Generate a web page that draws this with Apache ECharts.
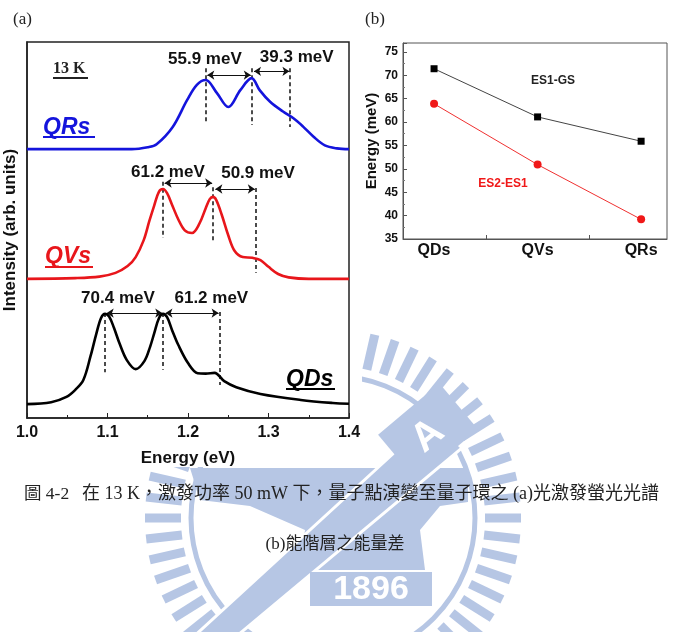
<!DOCTYPE html>
<html>
<head>
<meta charset="utf-8">
<script src="https://cdn.jsdelivr.net/npm/echarts@6/dist/echarts.min.js"></script>
<style>
html, body { margin: 0; padding: 0; background: #fff; }
#chart { width: 675px; height: 632px; }
</style>
</head>
<body>
<div id="chart"></div>
<script>
// (a) PL spectra, stacked, [energy eV, intensity arb.]
const qdsCurve = [[1.00,3.7],[1.03,4.2],[1.049,5.6],[1.06,7.5],[1.07,10.1],[1.079,16.5],[1.086,22.3],[1.092,26.6],[1.097,27.7],[1.102,27.0],[1.108,24.0],[1.115,19.8],[1.124,15.4],[1.135,13.0],[1.146,15.2],[1.153,19.0],[1.158,22.5],[1.164,26.6],[1.169,27.7],[1.174,26.8],[1.18,23.5],[1.188,19.4],[1.20,14.6],[1.212,11.9],[1.222,11.8],[1.233,12.0],[1.245,9.8],[1.26,8.2],[1.29,6.4],[1.34,4.8],[1.38,4.0],[1.40,3.8]];
const qvsCurve = [[1.00,37.0],[1.06,37.2],[1.09,37.6],[1.11,38.6],[1.125,40.4],[1.135,42.8],[1.145,47.3],[1.152,52.4],[1.158,56.5],[1.164,60.2],[1.169,60.9],[1.174,59.8],[1.18,56.8],[1.188,52.8],[1.196,49.9],[1.205,49.2],[1.214,51.6],[1.222,55.8],[1.227,58.2],[1.231,58.8],[1.235,58.0],[1.242,54.0],[1.25,48.6],[1.258,44.4],[1.268,42.8],[1.28,42.6],[1.29,42.0],[1.30,40.2],[1.312,38.3],[1.325,37.4],[1.35,37.0],[1.40,37.0]];
const qrsCurve = [[1.00,71.5],[1.13,71.5],[1.15,72.0],[1.161,72.8],[1.181,77.4],[1.199,84.6],[1.211,88.6],[1.222,89.9],[1.236,86.4],[1.25,82.7],[1.265,87.2],[1.279,90.4],[1.289,87.2],[1.302,84.1],[1.318,81.5],[1.331,79.7],[1.343,77.5],[1.356,74.8],[1.37,72.5],[1.385,71.7],[1.40,71.5]];

// peak positions (eV) and splittings
const qdsPeaks = [1.097, 1.169, 1.239];
const qvsPeaks = [1.169, 1.231, 1.284];
const qrsPeaks = [1.222, 1.279, 1.327];
const qdsGaps = ['70.4 meV', '61.2 meV'];
const qvsGaps = ['61.2 meV', '50.9 meV'];
const qrsGaps = ['55.9 meV', '39.3 meV'];

// (b) level spacing
const samples = ['QDs', 'QVs', 'QRs'];
const es1gs = [71.4, 61.1, 55.9];
const es2es1 = [63.9, 50.9, 39.2];

// annotation placement (axis units)
const qdsDashTop = [27.9, 27.9, 28.2], qdsDashBot = [12.2, 12.8, 8.8], qdsArrowY = [27.9, 27.9];
const qvsDashTop = [62.8, 61.4, 61.2], qvsDashBot = [47.9, 46.8, 38.6], qvsArrowY = [62.5, 60.9];
const qrsDashTop = [93.0, 93.0, 93.0], qrsDashBot = [78.5, 77.9, 77.4], qrsArrowY = [91.2, 92.2];
const qdsLabelPos = [[1.113, 31.9], [1.229, 31.9]];
const qvsLabelPos = [[1.175, 65.4], [1.287, 65.2]];
const qrsLabelPos = [[1.221, 95.5], [1.335, 96.0]];

const sans = '"Liberation Sans", Arial, sans-serif';
const serif = '"Liberation Serif", "Times New Roman", serif';
const cjk = '"Liberation Serif", "Noto Sans CJK TC", serif';
const wm = '#b6c6e4';

function marks(peaks, tops, bots, arrowY) {
  const out = [];
  peaks.forEach((p, i) => {
    out.push([
      { coord: [p, tops[i]], symbol: 'none', lineStyle: { type: [4, 3], width: 1.5 } },
      { coord: [p, bots[i]], symbol: 'none' }
    ]);
  });
  for (let i = 0; i < 2; i++) {
    const x0 = peaks[i] + (i === 1 ? 0.003 : 0.002), x1 = peaks[i + 1] - 0.001;
    out.push([
      { coord: [x0, arrowY[i]], symbol: 'arrow', symbolSize: 7, lineStyle: { type: 'solid', width: 1.2 } },
      { coord: [x1, arrowY[i]], symbol: 'arrow', symbolSize: 7 }
    ]);
  }
  return out;
}

function curve(name, data, color, m) {
  return {
    name, type: 'line', xAxisIndex: 0, yAxisIndex: 0, data,
    smooth: 0.35, showSymbol: false, symbol: 'none', z: 6,
    lineStyle: { color, width: 2.6 },
    markLine: {
      silent: true, animation: false, label: { show: false },
      lineStyle: { color: '#111' }, data: m
    }
  };
}

const gapLabels = [];
[[qdsLabelPos, qdsGaps], [qvsLabelPos, qvsGaps], [qrsLabelPos, qrsGaps]].forEach(([pos, txt]) => {
  pos.forEach((p, i) => gapLabels.push([p[0], p[1], txt[i]]));
});

// watermark (NCTU seal) drawn behind everything
const wmParts = [];
const cx = 333, cy = 518;
for (let i = 0; i < 56; i++) {
  wmParts.push({ type: 'rect', x: cx, y: cy, rotation: i * 2 * Math.PI / 56,
    shape: { x: -4.5, y: -188, width: 9, height: 36 }, style: { fill: wm }, z: 0 });
}
wmParts.push({ type: 'circle', shape: { cx, cy, r: 142 }, style: { fill: 'none', stroke: wm, lineWidth: 5 }, z: 0 });
wmParts.push({ type: 'polygon', shape: { points: [[190,468],[468,468],[468,502],[440,506],[420,530],[425,570],[300,570],[305,530],[250,506],[200,500]] }, style: { fill: wm }, z: 0 });
wmParts.push({ type: 'polygon', shape: { points: [[190,640],[232,640],[462,448],[432,418]] }, style: { fill: wm, stroke: '#fff', lineWidth: 3 }, z: 0 });
wmParts.push({ type: 'rect', x: 428, y: 432, rotation: Math.PI / 4.5, shape: { x: -40, y: -30, width: 80, height: 60 }, style: { fill: wm }, z: 0 });
wmParts.push({ type: 'text', x: 428, y: 436, rotation: Math.PI / 4.5, style: { text: 'A', fill: '#fff', font: 'bold 40px ' + sans, textAlign: 'center', textVerticalAlign: 'middle' }, z: 0 });
wmParts.push({ type: 'rect', shape: { x: 310, y: 572, width: 122, height: 34 }, style: { fill: wm }, z: 0 });
wmParts.push({ type: 'text', x: 371, y: 590, style: { text: '1896', fill: '#fff', font: 'bold 34px ' + sans, textAlign: 'center', textVerticalAlign: 'middle' }, z: 0 });
// figure image covers the seal
wmParts.push({ type: 'rect', shape: { x: 0, y: 0, width: 362, height: 467 }, style: { fill: '#fff' }, z: 1 });

function underlined(x, y, text, font, color, w) {
  return [
    { type: 'text', x, y, style: { text, font, fill: color, textVerticalAlign: 'middle' }, z: 10 },
    { type: 'rect', shape: { x, y: y + w[1], width: w[0], height: 2 }, style: { fill: color }, z: 10 }
  ];
}

const texts = [
  { type: 'text', x: 13, y: 20, style: { text: '(a)', font: '17px ' + serif, fill: '#222', textVerticalAlign: 'middle' }, z: 10 },
  { type: 'text', x: 365, y: 20, style: { text: '(b)', font: '17px ' + serif, fill: '#222', textVerticalAlign: 'middle' }, z: 10 },
  ...underlined(53, 69, '13 K', 'bold 16px ' + serif, '#222', [35, 8]),
  ...underlined(43, 128, 'QRs', 'italic bold 23px ' + sans, '#1414dc', [52, 8]),
  ...underlined(45, 257, 'QVs', 'italic bold 23px ' + sans, '#e8161b', [48, 9]),
  ...underlined(286, 380, 'QDs', 'italic bold 23px ' + sans, '#000', [49, 8]),
  { type: 'text', x: 553, y: 81, style: { text: 'ES1-GS', font: 'bold 12px ' + sans, fill: '#222', textAlign: 'center', textVerticalAlign: 'middle' }, z: 10 },
  { type: 'text', x: 503, y: 184, style: { text: 'ES2-ES1', font: 'bold 12px ' + sans, fill: '#f01818', textAlign: 'center', textVerticalAlign: 'middle' }, z: 10 },
  { type: 'text', x: 24, y: 494, style: { text: '圖 4-2', font: '17.5px ' + cjk, fill: '#222', textVerticalAlign: 'middle' }, z: 10 },
  { type: 'text', x: 82, y: 494, style: { text: '在 13 K，激發功率 50 mW 下，量子點演變至量子環之 (a)光激發螢光光譜', font: '18px ' + cjk, fill: '#222', textVerticalAlign: 'middle' }, z: 10 },
  { type: 'text', x: 335, y: 545, style: { text: '(b)能階層之能量差', font: '17px ' + cjk, fill: '#222', textAlign: 'center', textVerticalAlign: 'middle' }, z: 10 }
];

const chart = echarts.init(document.getElementById('chart'));
chart.setOption({
  animation: false,
  backgroundColor: '#fff',
  graphic: { elements: [...wmParts, ...texts] },
  grid: [
    { left: 27, top: 42, width: 322, height: 376, show: true, borderColor: '#222', borderWidth: 1.5, z: 5 },
    { left: 403, top: 43, width: 264, height: 196, show: true, borderColor: '#555', borderWidth: 1, z: 5 }
  ],
  xAxis: [
    {
      gridIndex: 0, type: 'value', min: 1.0, max: 1.4, interval: 0.1, z: 5,
      name: 'Energy (eV)', nameLocation: 'middle', nameGap: 32,
      nameTextStyle: { fontFamily: sans, fontWeight: 'bold', fontSize: 17, color: '#111' },
      axisLine: { onZero: false, lineStyle: { color: '#222', width: 1.5 } },
      axisTick: { inside: true, length: 5, lineStyle: { color: '#222', width: 1 } },
      minorTick: { show: true, splitNumber: 2, length: 3, lineStyle: { color: '#222' } },
      axisLabel: { margin: 7, fontFamily: sans, fontWeight: 'bold', fontSize: 16, color: '#111', formatter: v => v.toFixed(1) },
      splitLine: { show: false }
    },
    {
      gridIndex: 1, type: 'value', min: -0.3, max: 2.25, z: 5,
      axisLine: { onZero: false, lineStyle: { color: '#555', width: 1 } },
      axisTick: { inside: true, length: 4, customValues: [0.5, 1.5], lineStyle: { color: '#555' } },
      axisLabel: { margin: 4, customValues: [0, 1, 2], fontFamily: sans, fontWeight: 'bold', fontSize: 16, color: '#111', formatter: v => samples[Math.round(v)] },
      splitLine: { show: false }
    }
  ],
  yAxis: [
    {
      gridIndex: 0, type: 'value', min: 0, max: 100, z: 5,
      name: 'Intensity (arb. units)', nameLocation: 'middle', nameGap: 8,
      nameTextStyle: { fontFamily: sans, fontWeight: 'bold', fontSize: 17, color: '#111' },
      axisLine: { onZero: false, lineStyle: { color: '#222', width: 1.5 } },
      axisTick: { show: false }, axisLabel: { show: false }, splitLine: { show: false }
    },
    {
      gridIndex: 1, type: 'value', min: 35, max: 76.9, interval: 5, z: 5,
      name: 'Energy (meV)', nameLocation: 'middle', nameGap: 24,
      nameTextStyle: { fontFamily: sans, fontWeight: 'bold', fontSize: 15, color: '#111' },
      axisLine: { onZero: false, lineStyle: { color: '#555', width: 1 } },
      axisTick: { inside: true, length: 4, lineStyle: { color: '#555' } },
      minorTick: { show: true, splitNumber: 2, length: 2, lineStyle: { color: '#777' } },
      axisLabel: { margin: 5, showMaxLabel: false, fontFamily: sans, fontWeight: 'bold', fontSize: 12, color: '#111' },
      splitLine: { show: false }
    }
  ],
  series: [
    curve('QDs', qdsCurve, '#000', marks(qdsPeaks, qdsDashTop, qdsDashBot, qdsArrowY)),
    curve('QVs', qvsCurve, '#e8161b', marks(qvsPeaks, qvsDashTop, qvsDashBot, qvsArrowY)),
    curve('QRs', qrsCurve, '#1414dc', marks(qrsPeaks, qrsDashTop, qrsDashBot, qrsArrowY)),
    {
      type: 'scatter', xAxisIndex: 0, yAxisIndex: 0, data: gapLabels, z: 7,
      symbolSize: 1, itemStyle: { color: 'rgba(0,0,0,0)', opacity: 1 }, silent: true,
      label: { show: true, position: 'inside', formatter: p => p.value[2],
        fontFamily: sans, fontWeight: 'bold', fontSize: 17, color: '#111' }
    },
    {
      name: 'ES1-GS', type: 'line', xAxisIndex: 1, yAxisIndex: 1, z: 6,
      data: es1gs.map((v, i) => [i, v]),
      symbol: 'rect', symbolSize: 7,
      lineStyle: { color: '#444', width: 1 }, itemStyle: { color: '#000' }
    },
    {
      name: 'ES2-ES1', type: 'line', xAxisIndex: 1, yAxisIndex: 1, z: 6,
      data: es2es1.map((v, i) => [i, v]),
      symbol: 'circle', symbolSize: 8,
      lineStyle: { color: '#f03030', width: 1 }, itemStyle: { color: '#f01818' }
    }
  ]
});
</script>
</body>
</html>
